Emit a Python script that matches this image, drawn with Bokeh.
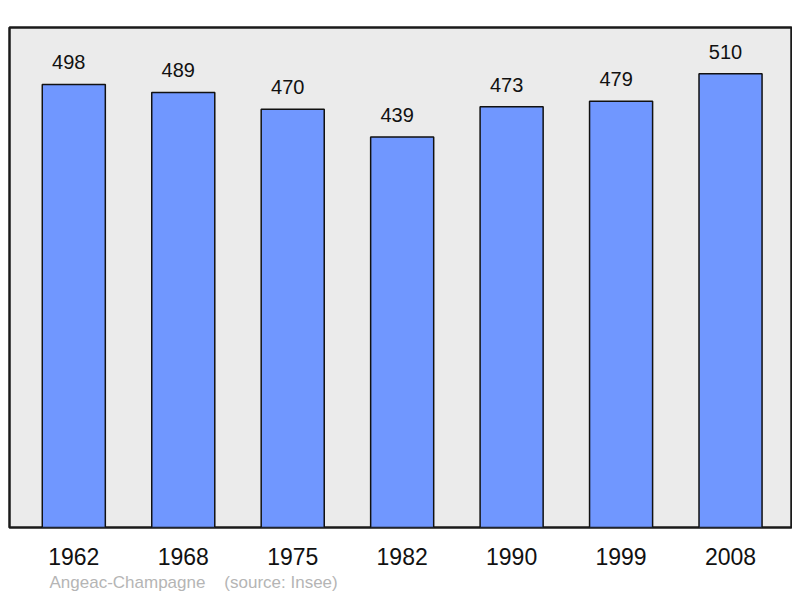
from bokeh.plotting import figure
from bokeh.models import ColumnDataSource, FixedTicker, Title, LabelSet
from bokeh.core.properties import value
from bokeh.embed import file_html
from bokeh.resources import INLINE

years = ["1962", "1968", "1975", "1982", "1990", "1999", "2008"]
population = [498, 489, 470, 439, 473, 479, 510]
source_note = "Angeac-Champagne\u00a0\u00a0\u00a0\u00a0(source: Insee)"

idx = list(range(len(years)))
src = ColumnDataSource(dict(x=idx, top=population, label=[str(v) for v in population]))

p = figure(width=792, height=595, output_backend="svg", toolbar_location=None,
           x_range=(-0.5875, 6.557), y_range=(0, 562),
           min_border_left=9, min_border_right=1, min_border_top=27, min_border_bottom=10)
p.background_fill_color = "#ebebeb"
p.border_fill_color = "white"
p.outline_line_color = "#1a1a1a"
p.outline_line_width = 2.5
p.grid.visible = False
p.yaxis.visible = False

p.vbar(x="x", top="top", bottom=0, width=0.576, source=src,
       fill_color="#7097ff", line_color="#111111", line_width=1.5)

labels = LabelSet(x="x", y="top", text="label", source=src, text_align="center",
                  text_baseline="alphabetic", x_offset=-5, y_offset=15,
                  text_font=value("Liberation Sans"), text_font_size=value("20px"),
                  text_color="#111111")
p.add_layout(labels)

ax = p.xaxis[0]
ax.ticker = FixedTicker(ticks=idx)
ax.major_label_overrides = {i: y for i, y in zip(idx, years)}
ax.axis_line_color = None
ax.major_tick_line_color = None
ax.minor_tick_line_color = None
ax.major_tick_out = 0
ax.major_tick_in = 0
ax.major_label_standoff = 20
ax.major_label_text_font = "Liberation Sans"
ax.major_label_text_font_size = "23px"
ax.major_label_text_color = "#111111"

t = Title(text=source_note, align="left", offset=40, standoff=7,
          text_font="Liberation Sans", text_font_size="17px",
          text_font_style="normal", text_color="#b5b5b5")
p.add_layout(t, "below")

open("out.html", "w").write(file_html(p, INLINE))
